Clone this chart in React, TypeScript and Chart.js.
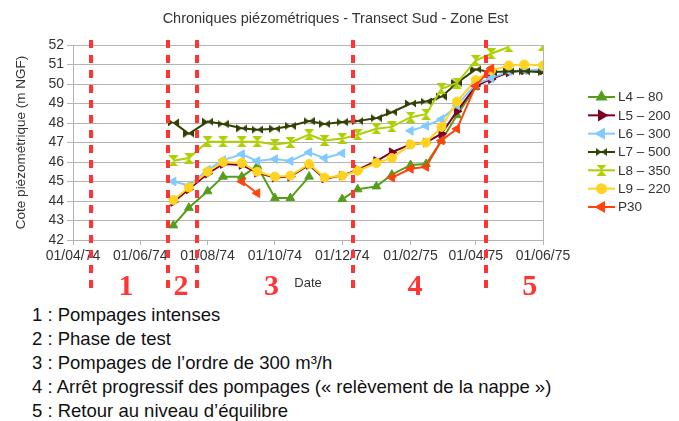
import React, { useEffect, useRef } from 'react';
import { Chart, registerables } from 'chart.js';
import { drawPoint } from 'chart.js/helpers';

Chart.register(...registerables);

// ---- data ----
const sampleDates = [
  '1974-07-01', '1974-07-15', '1974-08-01', '1974-08-15', '1974-09-01', '1974-09-15',
  '1974-10-01', '1974-10-15', '1974-11-01', '1974-11-15', '1974-12-01', '1974-12-15',
  '1975-01-01', '1975-01-15', '1975-02-01', '1975-02-15', '1975-03-01', '1975-03-15',
  '1975-04-01', '1975-04-15', '1975-05-01', '1975-05-15', '1975-06-01',
];

const L4 = [42.75, 43.65, 44.5, 45.25, 45.25, 45.8, 44.15, 44.15, 45.25, null, 44.1, 44.6,
  44.75, 45.35, 45.85, 45.9, 47.1, 48.4, 49.85, null, null, null, null];
const L5 = [43.95, 44.6, 45.4, 45.9, 45.85, 45.45, 45.2, 45.25, 45.85, 45.15, 45.3, 45.6,
  46.05, 46.5, 46.9, 47.0, 47.45, 48.6, 49.9, 50.25, 50.6, 50.7, 50.7];
const L6 = [45.0, 44.8, 45.6, 46.1, 46.4, 46.05, 46.15, 46.05, 46.5, 46.2, 46.45, null,
  null, null, 47.6, 47.85, 48.2, 48.9, 50.0, 50.3, 50.65, 50.7, 50.75];
const L7 = [48.03, 47.45, 48.07, 47.95, 47.73, 47.66, 47.7, 47.85, 48.1, 47.95, 48.05, 48.1,
  48.25, 48.55, 49.0, 49.1, 49.35, 50.05, 50.75, 50.6, 50.65, 50.65, 50.6];
const L8 = [46.06, 46.2, 47.04, 47.04, 47.04, 47.04, 46.9, 47.0, 47.4, 47.1, 47.2, 47.4,
  47.7, 47.8, 48.3, 48.45, 49.75, 50.05, 51.2, 51.55, 51.9, null, 52.0];
const L9 = [44.05, 44.69, 45.5, 46.0, 45.95, 45.5, 45.25, 45.3, 45.9, 45.2, 45.3, 45.55,
  45.95, 46.2, 46.9, 47.0, 47.8, 49.1, 50.2, 50.7, 50.95, 51.0, 50.95];
const P30 = [null, null, null, null, 45.0, 44.4, null, null, null, null, null, null,
  null, 45.2, 45.65, 45.75, 47.1, 47.7, 49.9, 50.8, null, null, null];

const seriesNames = ['L4 – 80', 'L5 – 200', 'L6 – 300', 'L7 – 500', 'L8 – 350', 'L9 – 220', 'P30'];
const seriesValues = [L4, L5, L6, L7, L8, L9, P30];
const seriesColors = ['#579d1c', '#7e0021', '#83caff', '#314004', '#aecf00', '#ffd320', '#ff420e'];

const tickDates = ['1974-04-01', '1974-06-01', '1974-08-01', '1974-10-01', '1974-12-01',
  '1975-02-01', '1975-04-01', '1975-06-01'];
const tickLabels = ['01/04/74', '01/06/74', '01/08/74', '01/10/74', '01/12/74',
  '01/02/75', '01/04/75', '01/06/75'];
const yMin = 42;
const yMax = 52;

const phaseLineDates = ['1974-04-17', '1974-06-26', '1974-07-22', '1974-12-11', '1975-04-10'];
const phaseLabelDates = ['1974-05-19', '1974-07-08', '1974-09-28', '1975-02-05', '1975-05-20'];
const phaseLabels = ['1', '2', '3', '4', '5'];

const titleText = 'Chroniques piézométriques - Transect Sud - Zone Est';
const yTitle = 'Cote piézométrique (m NGF)';
const xTitle = 'Date';

const notes = [
  '1 : Pompages intenses',
  '2 : Phase de test',
  '3 : Pompages de l’ordre de 300 m³/h',
  '4 : Arrêt progressif des pompages (« relèvement de la nappe »)',
  '5 : Retour au niveau d’équilibre',
];

// ---- helpers ----
const ORIGIN = Date.UTC(1974, 3, 1);
const dayOf = (s: string) => (Date.parse(s + 'T00:00:00Z') - ORIGIN) / 86400000;

const FONT = '"Liberation Sans", Arial, sans-serif';
const PHASE_COLOR = '#ff3434';
const GRID = '#b3b3b3';

function makeBowtie(color: string) {
  const c = document.createElement('canvas');
  c.width = 11; c.height = 11;
  const g = c.getContext('2d')!;
  g.fillStyle = color;
  g.beginPath();
  g.moveTo(0, 1.5); g.lineTo(11, 9.5); g.lineTo(11, 1.5); g.lineTo(0, 9.5);
  g.closePath(); g.fill();
  return c;
}
function makeHourglass(color: string) {
  const c = document.createElement('canvas');
  c.width = 11; c.height = 11;
  const g = c.getContext('2d')!;
  g.fillStyle = color;
  g.beginPath();
  g.moveTo(0.5, 0); g.lineTo(10.5, 0); g.lineTo(0.5, 11); g.lineTo(10.5, 11);
  g.closePath(); g.fill();
  return c;
}

function pointStyleFor(i: number): { style: any; rotation: number; radius: number } {
  const col = seriesColors[i];
  switch (i) {
    case 0: return { style: 'triangle', rotation: 0, radius: 5 };
    case 1: return { style: 'triangle', rotation: 90, radius: 5 };
    case 2: return { style: 'triangle', rotation: -90, radius: 5 };
    case 3: return { style: makeBowtie(col), rotation: 0, radius: 5 };
    case 4: return { style: makeHourglass(col), rotation: 0, radius: 5 };
    case 5: return { style: 'circle', rotation: 0, radius: 4.5 };
    default: return { style: 'triangle', rotation: -90, radius: 5 };
  }
}

const phasePlugin = {
  id: 'phases',
  afterDraw(chart: any) {
    const { ctx, chartArea, scales } = chart;
    const x = scales.x;
    ctx.save();
    ctx.strokeStyle = PHASE_COLOR;
    ctx.lineWidth = 4;
    ctx.setLineDash([8, 7]);
    phaseLineDates.forEach((d) => {
      const px = Math.round(x.getPixelForValue(dayOf(d)));
      ctx.beginPath();
      ctx.moveTo(px, chartArea.top - 5);
      ctx.lineTo(px, chartArea.bottom + 48);
      ctx.stroke();
    });
    ctx.setLineDash([]);
    ctx.fillStyle = PHASE_COLOR;
    ctx.font = 'bold 30px "Liberation Serif", "Times New Roman", serif';
    ctx.textAlign = 'center';
    ctx.textBaseline = 'middle';
    phaseLabelDates.forEach((d, i) => {
      ctx.fillText(phaseLabels[i], x.getPixelForValue(dayOf(d)), chartArea.bottom + 47);
    });
    ctx.restore();
  },
};

const legendPlugin = {
  id: 'customLegend',
  afterDraw(chart: any) {
    const { ctx, chartArea } = chart;
    const x0 = chartArea.right + 45;
    const y0 = chartArea.top + 52;
    const step = 18.33;
    ctx.save();
    chart.data.datasets.forEach((ds: any, i: number) => {
      const y = y0 + i * step;
      ctx.strokeStyle = ds.borderColor;
      ctx.lineWidth = 2;
      ctx.beginPath();
      ctx.moveTo(x0, y);
      ctx.lineTo(x0 + 27, y);
      ctx.stroke();
      ctx.fillStyle = ds.pointBackgroundColor;
      ctx.strokeStyle = ds.pointBorderColor;
      drawPoint(ctx, {
        pointStyle: ds.pointStyle,
        rotation: ds.pointRotation,
        radius: ds.pointRadius,
        borderWidth: 1,
      } as any, x0 + 13.5, y);
      ctx.fillStyle = '#333333';
      ctx.font = '13.5px ' + FONT;
      ctx.textAlign = 'left';
      ctx.textBaseline = 'middle';
      ctx.fillText(seriesNames[i], x0 + 30, y + 0.5);
    });
    ctx.restore();
  },
};

export default function App() {
  const ref = useRef<HTMLCanvasElement | null>(null);

  useEffect(() => {
    if (!ref.current) return;
    Chart.defaults.font.family = FONT;
    Chart.defaults.color = '#333333';

    const datasets = seriesValues.map((vals, i) => {
      const ps = pointStyleFor(i);
      return {
        label: seriesNames[i],
        data: sampleDates.map((d, k) => ({ x: dayOf(d), y: vals[k] })),
        borderColor: seriesColors[i],
        backgroundColor: seriesColors[i],
        pointBackgroundColor: seriesColors[i],
        pointBorderColor: seriesColors[i],
        pointStyle: ps.style,
        pointRotation: ps.rotation,
        pointRadius: ps.radius,
        pointBorderWidth: 1,
        borderWidth: 2,
        tension: 0,
        spanGaps: false,
        order: seriesNames.length - i,
      };
    });

    const chart = new Chart(ref.current, {
      type: 'line',
      data: { datasets } as any,
      options: {
        animation: false,
        responsive: false,
        devicePixelRatio: 1,
        layout: { padding: { top: 45, right: 136, left: 0, bottom: 0 } },
        plugins: {
          legend: { display: false },
          title: { display: false },
          tooltip: { enabled: false },
        },
        scales: {
          x: {
            type: 'linear',
            min: dayOf(tickDates[0]),
            max: dayOf(tickDates[tickDates.length - 1]),
            afterBuildTicks: (scale: any) => {
              scale.ticks = tickDates.map((d) => ({ value: dayOf(d) }));
            },
            afterFit: (scale: any) => { scale.height = 60; },
            ticks: {
              autoSkip: false,
              maxRotation: 0,
              padding: 3,
              font: { size: 14 },
              color: '#333333',
              callback: (_v: any, idx: number) => tickLabels[idx],
            },
            grid: {
              color: (c: any) => (c.index === tickDates.length - 1 ? GRID : 'rgba(0,0,0,0)'),
              tickColor: GRID,
              tickLength: 5,
            },
            border: { color: GRID },
            title: {
              display: true,
              text: xTitle,
              font: { size: 13 },
              color: '#333333',
              padding: { top: 0, bottom: 9 },
            },
          },
          y: {
            type: 'linear',
            min: yMin,
            max: yMax,
            afterFit: (scale: any) => { scale.width = 73; },
            ticks: { stepSize: 1, autoSkip: false, padding: 3, font: { size: 14 }, color: '#333333' },
            grid: { color: GRID, tickColor: GRID, tickLength: 6 },
            border: { color: GRID },
            title: {
              display: true,
              text: yTitle,
              font: { size: 13.5 },
              color: '#333333',
              padding: { top: 13, bottom: 0 },
            },
          },
        },
      } as any,
      plugins: [phasePlugin, legendPlugin],
    });
    return () => chart.destroy();
  }, []);

  return (
    <div style={{ position: 'absolute', left: 0, top: 0, width: 679, height: 421, background: '#ffffff', overflow: 'hidden' }}>
      <canvas ref={ref} width={679} height={300} style={{ position: 'absolute', left: 0, top: 0, width: 679, height: 300 }} />
      <div style={{
        position: 'absolute', left: 0, top: 9, width: 671, textAlign: 'center',
        fontFamily: FONT, fontSize: '14.5px', lineHeight: '18px', color: '#333333', whiteSpace: 'nowrap',
      }}>{titleText}</div>
      <div style={{ position: 'absolute', left: 32, top: 303, fontFamily: FONT, fontSize: '18.5px', lineHeight: '24px', color: '#111111', whiteSpace: 'nowrap' }}>
        {notes.map((t, i) => <div key={i}>{t}</div>)}
      </div>
    </div>
  );
}
